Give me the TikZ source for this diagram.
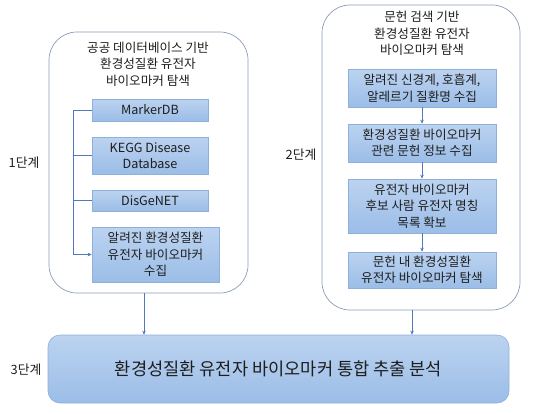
\documentclass[tikz,border=0pt]{standalone}
\usepackage{fontspec}
\setmainfont{Noto Sans CJK KR}
\usetikzlibrary{arrows.meta}
\definecolor{boxtop}{HTML}{BCD3F0}
\definecolor{boxbot}{HTML}{9BBDE7}
\definecolor{boxline}{HTML}{8DB0DD}
\definecolor{outerline}{HTML}{8C9CB6}
\definecolor{conn}{HTML}{5079BE}
\definecolor{txt}{HTML}{1E1E1E}
\begin{document}
\begin{tikzpicture}[x=1pt,y=-1pt,
  every node/.style={text=txt},
  inbox/.style={draw=boxline, line width=0.6pt, top color=boxtop, bottom color=boxbot,
    align=center, inner sep=0pt, font=\fontsize{12.6}{16.5}\selectfont},
  outerbox/.style={draw=outerline, line width=0.7pt, rounded corners=28pt, inner sep=0pt},
  bigbar/.style={draw=boxline, line width=0.6pt, top color=boxtop, bottom color=boxbot,
    rounded corners=12pt, inner sep=0pt, font=\fontsize{17.6}{20}\selectfont},
  title/.style={align=center, inner sep=0pt, font=\fontsize{12.6}{16.5}\selectfont},
  stage/.style={inner sep=0pt, font=\fontsize{12.8}{14}\selectfont},
  conn/.style={draw=conn, line width=0.6pt},
  arr/.style={conn, -{Stealth[length=4pt,width=3.5pt]}}
]
\useasboundingbox (0,0) rectangle (535,413);

% outer boxes
\node[outerbox, minimum width=199pt, minimum height=261pt] (Lout) at (148.5,162.5) {};
\node[outerbox, minimum width=198pt, minimum height=305pt] (Rout) at (421,157.5) {};

% titles
\node[title] (Ltitle) at (148,64) {공공 데이터베이스 기반\\환경성질환 유전자\\바이오마커 탐색};
\node[title] (Rtitle) at (422,33.5) {문헌 검색 기반\\환경성질환 유전자\\바이오마커 탐색};

% left inner boxes
\node[inbox, minimum width=116pt, minimum height=22pt] (A1) at (150,110) {MarkerDB};
\node[inbox, minimum width=116pt, minimum height=37pt] (A2) at (150,155.5) {KEGG Disease\\Database};
\node[inbox, minimum width=116pt, minimum height=21pt] (A3) at (150,200.5) {DisGeNET};
\node[inbox, minimum width=127pt, minimum height=55pt] (A4) at (155.5,254.5) {알려진 환경성질환\\유전자 바이오마커\\수집};

% right inner boxes
\node[inbox, minimum width=148pt, minimum height=38pt] (B1) at (422,88) {알려진 신경계, 호흡계,\\알레르기 질환명 수집};
\node[inbox, minimum width=148pt, minimum height=38pt] (B2) at (422,143) {환경성질환 바이오마커\\관련 문헌 정보 수집};
\node[inbox, minimum width=148pt, minimum height=54pt] (B3) at (422,206) {유전자 바이오마커\\후보 사람 유전자 명칭\\목록 확보};
\node[inbox, minimum width=148pt, minimum height=36pt] (B4) at (422,270) {문헌 내 환경성질환\\유전자 바이오마커 탐색};

% bottom bar
\node[bigbar, minimum width=461pt, minimum height=68pt] (bar) at (278.5,369) {환경성질환 유전자 바이오마커 통합 추출 분석};

% stage labels
\node[stage] (s1) at (24,163) {1단계};
\node[stage] (s2) at (301,155) {2단계};
\node[stage] (s3) at (26,370) {3단계};

% left bracket connector
\coordinate (bx) at (73,0);
\draw[arr] (A1.west) -- (A1.west -| bx) |- (A4.west);
\draw[conn] (A2.west) -- (A2.west -| bx);
\draw[conn] (A3.west) -- (A3.west -| bx);

% right chain
\draw[arr] (B1.south) -- (B2.north);
\draw[arr] (B2.south) -- (B3.north);
\draw[arr] (B3.south) -- (B4.north);

% to bar
\coordinate (la) at (144,0);
\coordinate (ra) at (412,0);
\draw[arr] (Lout.south -| la) -- (bar.north -| la);
\draw[arr] (Rout.south -| ra) -- (bar.north -| ra);
\end{tikzpicture}
\end{document}
